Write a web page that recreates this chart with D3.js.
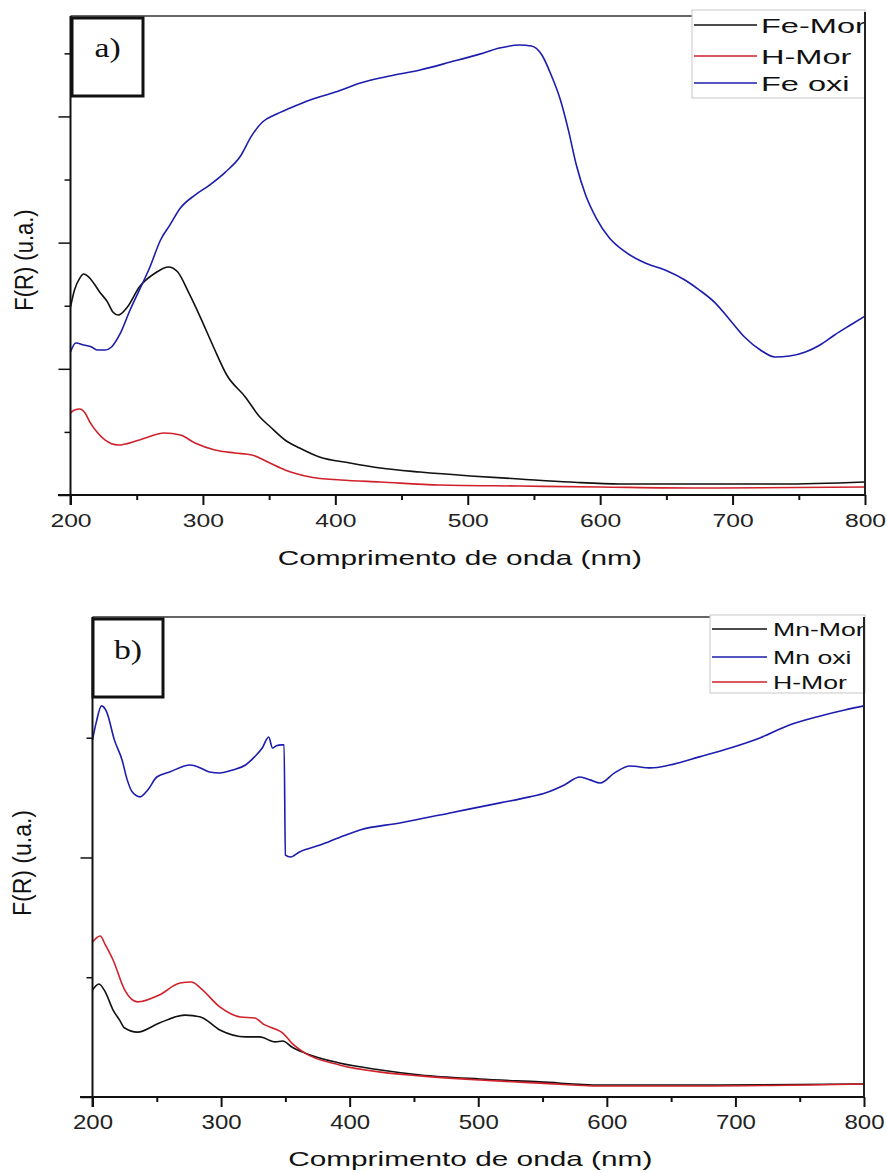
<!DOCTYPE html>
<html>
<head>
<meta charset="utf-8">
<script src="https://cdn.jsdelivr.net/npm/d3@7"></script>
<style>
    body { margin: 0; background: #fff; }
    svg { display: block; font-family: "Liberation Sans", Arial, sans-serif; }
</style>
</head>
<body>
<svg id="chart" width="887" height="1173"></svg>
<script>
const wavelengthTicks = [200, 300, 400, 500, 600, 700, 800];
const wavelengthMinor = [250, 350, 450, 550, 650, 750];
const xTitle = "Comprimento de onda (nm)";
const yTitle = "F(R) (u.a.)";

// panel a) - F(R) in arbitrary units, one major tick = 1
const feMor = [[200,1.490],[203,1.624],[207,1.719],[210,1.751],[213,1.735],[218,1.672],[222,1.609],[228,1.529],[232,1.450],[236,1.426],[243,1.490],[252,1.648],[264,1.759],[274,1.807],[281,1.767],[289,1.609],[298,1.410],[308,1.173],[318,0.951],[332,0.777],[343,0.618],[351,0.539],[362,0.436],[373,0.372],[388,0.301],[411,0.254],[434,0.214],[464,0.182],[502,0.151],[539,0.127],[577,0.103],[615,0.087],[675,0.087],[736,0.087],[800,0.103]];
const hMorA = [[200,0.650],[203,0.674],[207,0.681],[211,0.650],[215,0.571],[220,0.499],[226,0.436],[236,0.396],[252,0.436],[271,0.491],[283,0.475],[294,0.412],[309,0.357],[324,0.333],[337,0.317],[349,0.261],[362,0.198],[381,0.143],[404,0.119],[434,0.103],[479,0.079],[539,0.071],[600,0.063],[675,0.055],[800,0.063]];
const feOxi = [[200,1.133],[204,1.204],[210,1.189],[216,1.173],[220,1.149],[226,1.149],[231,1.173],[237,1.268],[245,1.466],[252,1.624],[260,1.807],[268,2.021],[275,2.139],[283,2.274],[294,2.377],[305,2.456],[317,2.559],[328,2.680],[337,2.850],[345,2.956],[354,3.011],[366,3.067],[381,3.130],[400,3.193],[419,3.265],[441,3.320],[464,3.368],[487,3.431],[509,3.494],[524,3.542],[539,3.566],[548,3.558],[556,3.487],[563,3.328],[570,3.130],[576,2.892],[582,2.615],[589,2.377],[597,2.195],[607,2.036],[619,1.926],[634,1.838],[649,1.783],[664,1.704],[675,1.624],[687,1.521],[698,1.387],[709,1.252],[721,1.149],[732,1.094],[743,1.101],[755,1.133],[766,1.189],[777,1.268],[789,1.347],[800,1.418]];
const legendA = ["Fe-Mor", "H-Mor", "Fe oxi"];

// panel b)
const mnMor = [[200,0.447],[205,0.472],[210,0.438],[216,0.363],[221,0.322],[225,0.288],[235,0.271],[252,0.309],[272,0.342],[284,0.334],[299,0.280],[319,0.251],[330,0.251],[342,0.230],[348,0.234],[355,0.209],[365,0.184],[392,0.142],[424,0.113],[455,0.092],[501,0.075],[548,0.063],[595,0.050],[672,0.050],[800,0.054]];
const mnOxi = [[200,1.491],[203,1.566],[207,1.633],[211,1.608],[217,1.491],[223,1.407],[227,1.324],[231,1.273],[237,1.253],[243,1.282],[250,1.336],[260,1.357],[276,1.386],[284,1.374],[291,1.357],[299,1.353],[309,1.365],[319,1.386],[326,1.420],[332,1.457],[337,1.503],[340,1.457],[343,1.466],[347,1.470],[349,1.470],[350,1.010],[354,1.002],[361,1.023],[377,1.052],[393,1.086],[408,1.115],[439,1.144],[478,1.186],[517,1.228],[540,1.253],[552,1.269],[567,1.303],[579,1.336],[587,1.324],[595,1.311],[606,1.353],[618,1.382],[634,1.374],[649,1.386],[672,1.420],[696,1.457],[719,1.499],[742,1.553],[766,1.591],[785,1.616],[800,1.633]];
const hMorB = [[200,0.647],[206,0.672],[210,0.635],[216,0.572],[225,0.447],[235,0.397],[252,0.426],[268,0.476],[277,0.480],[284,0.455],[299,0.376],[315,0.334],[326,0.330],[334,0.301],[342,0.284],[348,0.267],[355,0.225],[365,0.184],[392,0.134],[424,0.104],[455,0.088],[501,0.071],[548,0.058],[595,0.046],[672,0.046],[800,0.054]];
const legendB = ["Mn-Mor", "Mn oxi", "H-Mor"];

const BLACK = "#111";
const RED = "#d0212b";
const BLUE = "#1c1cae";

const svg = d3.select('#chart');

// text that is wider than the font (the source picture is stretched sideways)
function stretchedText(parent, x, y, txt, sx, size, anchor, family) {
    const g = parent.append('g')
        .attr('transform', `translate(${x},${y}) scale(${sx},1)`);
    g.append('text')
        .attr('text-anchor', anchor || 'start')
        .style('font-size', size + 'px')
        .style('font-family', family || null)
        .attr('fill', '#111')
        .text(txt);
    return g;
}

function drawPanel(cfg) {
    const x = d3.scaleLinear().domain([200, 800]).range([cfg.left, cfg.right]);
    const y = d3.scaleLinear().domain([0, cfg.yMax]).range([cfg.bottom, cfg.top]);
    const g = svg.append('g');

    // top frame line
    g.append('line')
        .attr('x1', cfg.left).attr('x2', cfg.right)
        .attr('y1', cfg.top).attr('y2', cfg.top)
        .attr('stroke', '#333').attr('stroke-width', 1.5);

    const line = d3.line()
        .x(d => x(d[0]))
        .y(d => y(d[1]))
        .curve(d3.curveMonotoneX);

    cfg.series.forEach(s => {
        g.append('path')
            .datum(s.values)
            .attr('d', line)
            .attr('fill', 'none')
            .attr('stroke', s.color)
            .attr('stroke-width', 1.6)
            .attr('stroke-linejoin', 'round');
    });

    // x axis
    const xAxis = g.append('g')
        .attr('transform', `translate(0,${cfg.bottom})`)
        .call(d3.axisBottom(x).tickValues(wavelengthTicks).tickSize(10).tickFormat(d3.format('d')));
    xAxis.select('.domain').remove();
    xAxis.selectAll('line').attr('stroke', BLACK).attr('stroke-width', 2);
    xAxis.selectAll('text')
        .attr('y', 32).attr('dy', null)
        .attr('fill', '#222')
        .style('font-size', cfg.tickFont + 'px')
        .style('font-family', '"Liberation Sans", Arial, sans-serif')
        .attr('transform', `scale(${cfg.tickStretch},1)`);

    const xMinor = g.append('g')
        .attr('transform', `translate(0,${cfg.bottom})`)
        .call(d3.axisBottom(x).tickValues(wavelengthMinor).tickSize(5).tickFormat(''));
    xMinor.select('.domain').remove();
    xMinor.selectAll('line').attr('stroke', BLACK).attr('stroke-width', 2);

    g.append('line')
        .attr('x1', cfg.xAxisFrom).attr('x2', cfg.right)
        .attr('y1', cfg.bottom).attr('y2', cfg.bottom)
        .attr('stroke', BLACK).attr('stroke-width', 2);

    // y axis, no labels
    const yAxis = g.append('g')
        .attr('transform', `translate(${cfg.left},0)`)
        .call(d3.axisLeft(y).tickValues(cfg.yMajor).tickSize(12).tickFormat(''));
    yAxis.select('.domain').remove();
    yAxis.selectAll('line').attr('stroke', BLACK).attr('stroke-width', 1.5);

    const yMinor = g.append('g')
        .attr('transform', `translate(${cfg.left},0)`)
        .call(d3.axisLeft(y).tickValues(cfg.yMinor).tickSize(6).tickFormat(''));
    yMinor.select('.domain').remove();
    yMinor.selectAll('line').attr('stroke', BLACK).attr('stroke-width', 1.5);

    g.append('line')
        .attr('x1', cfg.left).attr('x2', cfg.left)
        .attr('y1', cfg.top).attr('y2', cfg.bottom + 10)
        .attr('stroke', BLACK).attr('stroke-width', 2);

    // legend
    const lg = cfg.legend;
    g.append('rect')
        .attr('x', lg.x).attr('y', lg.y)
        .attr('width', lg.w).attr('height', lg.h)
        .attr('fill', '#fff')
        .attr('stroke', '#c8c8c8').attr('stroke-width', 1);

    cfg.legendItems.forEach((name, i) => {
        const s = cfg.series.find(d => d.name === name);
        const ly = lg.rows[i];
        g.append('line')
            .attr('x1', lg.x + 2).attr('x2', lg.lineEnd)
            .attr('y1', ly).attr('y2', ly)
            .attr('stroke', s.color).attr('stroke-width', 1.6);
        stretchedText(g, lg.textX, ly + lg.baseline, name, lg.stretch, lg.font);
    });

    // right frame line, drawn over the legend edge
    g.append('line')
        .attr('x1', cfg.right).attr('x2', cfg.right)
        .attr('y1', lg.y + 2).attr('y2', cfg.bottom)
        .attr('stroke', '#222').attr('stroke-width', 2);

    // panel label box
    const pb = cfg.tag;
    g.append('rect')
        .attr('x', pb.x).attr('y', pb.y)
        .attr('width', pb.w).attr('height', pb.h)
        .attr('fill', '#fff')
        .attr('stroke', '#111').attr('stroke-width', 3);
    stretchedText(g, pb.x + pb.w / 2, pb.baseline, pb.text, 1.25, 27, 'middle', '"Liberation Serif", "Times New Roman", serif');

    // titles
    stretchedText(g, (cfg.left + cfg.right) / 2 - 8, cfg.titleY, xTitle, 1.49, 20, 'middle');

    g.append('text')
        .attr('transform', `translate(${cfg.yLabel.x},${cfg.yLabel.y}) scale(1.14,1) rotate(-90)`)
        .attr('text-anchor', 'middle')
        .attr('fill', '#111')
        .style('font-size', cfg.yLabel.font + 'px')
        .text(yTitle);
}

drawPanel({
    left: 70.5, right: 865, top: 16, bottom: 495,
    yMax: 3.796, yMajor: [0, 1, 2, 3], yMinor: [0.5, 1.5, 2.5, 3.5],
    xAxisFrom: 58,
    tickFont: 19, tickStretch: 1.3,
    titleY: 565,
    yLabel: { x: 33, y: 260, font: 22 },
    series: [
        { name: "Fe-Mor", values: feMor, color: BLACK },
        { name: "H-Mor", values: hMorA, color: RED },
        { name: "Fe oxi", values: feOxi, color: BLUE }
    ],
    legendItems: legendA,
    legend: { x: 692, y: 10, w: 173, h: 88, rows: [25, 56, 83], lineEnd: 757, textX: 761, baseline: 8, font: 21, stretch: 1.55 },
    tag: { x: 72, y: 18, w: 71, h: 78, text: "a)", baseline: 57 }
});

drawPanel({
    left: 92.5, right: 864, top: 617, bottom: 1097,
    yMax: 2.004, yMajor: [0, 1], yMinor: [0.5, 1.5],
    xAxisFrom: 80,
    tickFont: 20, tickStretch: 1.2,
    titleY: 1166,
    yLabel: { x: 31, y: 863, font: 23 },
    series: [
        { name: "Mn-Mor", values: mnMor, color: BLACK },
        { name: "Mn oxi", values: mnOxi, color: BLUE },
        { name: "H-Mor", values: hMorB, color: RED }
    ],
    legendItems: legendB,
    legend: { x: 710, y: 615, w: 155, h: 78, rows: [629, 657, 682], lineEnd: 767, textX: 773, baseline: 7, font: 18, stretch: 1.48 },
    tag: { x: 93, y: 619, w: 70, h: 78, text: "b)", baseline: 659 }
});
</script>
</body>
</html>
